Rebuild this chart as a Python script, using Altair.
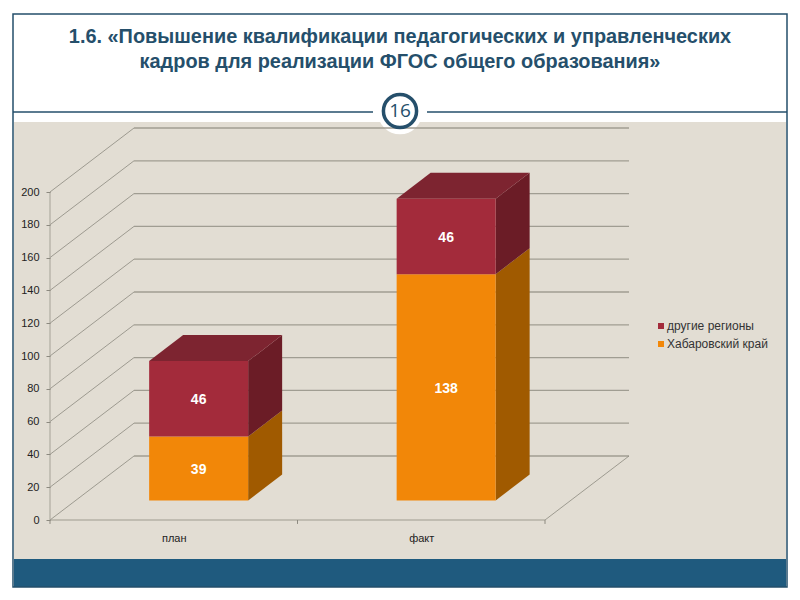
import altair as alt
import pandas as pd

# ---- data
categories = ["план", "факт"]
series = ["другие регионы", "Хабаровский край"]
region_values = [39, 138]
other_values = [46, 46]
y_ticks = [0, 20, 40, 60, 80, 100, 120, 140, 160, 180, 200]
title_lines = ["1.6. «Повышение квалификации педагогических и управленческих",
               "кадров для реализации ФГОС общего образования»"]
slide_number = ["16"]

# ---- geometry of the oblique 3D projection (in scale units)
W, H = 784, 584
PX_CAT = 247.5      # px per category
PX_VAL = 1.64       # px per value unit
X0, Y0 = 42.0, 512.0  # position of (0, 0) inside the view
DEPTH_X = 84 / PX_CAT
DEPTH_Y = 64 / PX_VAL
BAR_W = 0.4
FRONT_DX, FRONT_DY = 24.9 / PX_CAT, 19.5 / PX_VAL
BACK_DX, BACK_DY = 58.9 / PX_CAT, 45.5 / PX_VAL

xs = alt.Scale(domain=[-X0 / PX_CAT, (W - X0) / PX_CAT], nice=False, zero=False)
ys = alt.Scale(domain=[(Y0 - H) / PX_VAL, Y0 / PX_VAL], nice=False, zero=False)


def X(f="x", **k):
    return alt.X(f"{f}:Q", scale=xs, title=None, **k)


def Y(f="y", **k):
    return alt.Y(f"{f}:Q", scale=ys, title=None, **k)


X2 = alt.X2("x2:Q")
Y2 = alt.Y2("y2:Q")

BEIGE = "#E2DDD3"
BLUE = "#1F5A7E"
DARK = "#254F6B"
GRID = "#A09D92"
FONT = "Liberation Sans"
one = alt.Data(values=[{"a": 1}])


def px_rect(x, x2, y, y2, **kw):
    return alt.Chart(one).mark_rect(**kw).encode(
        x=alt.value(x), x2=alt.value(x2), y=alt.value(y), y2=alt.value(y2))


layers = [
    px_rect(6, 778, 114, 551, fill=BEIGE),
    px_rect(6, 778, 551, 579, fill=BLUE),
]

# white halo of the page-number badge sits under the grid
layers.append(alt.Chart(one).mark_point(filled=True, color="white", opacity=1, size=2000).encode(
    x=alt.value(392), y=alt.value(104)))

# ---- front floor edge carries the real axes: it must be the first layer with x/y
floor = pd.DataFrame({"x": [0.0], "x2": [2.0], "y": [0.0]})
layers.append(alt.Chart(floor).mark_rule(color="#B5B1A6", strokeWidth=1.5).encode(
    x=X(axis=alt.Axis(values=[0.5, 1.5], labelExpr="datum.value == 0.5 ? 'план' : 'факт'",
                      domain=False, grid=False, ticks=False, offset=-(H - Y0),
                      labelPadding=12, labelFont=FONT, labelFontSize=11,
                      labelColor="#222222", zindex=1)),
    x2=X2,
    y=Y(axis=alt.Axis(values=y_ticks, domain=False, grid=False, offset=-X0,
                      tickColor="#8C897F", tickSize=4, labelPadding=7,
                      labelFont=FONT, labelFontSize=11, labelColor="#222222", zindex=1))))

# ---- walls
back = pd.DataFrame({"x": DEPTH_X, "x2": 2 + DEPTH_X,
                     "y": [v + DEPTH_Y for v in y_ticks]})
layers.append(alt.Chart(back).mark_rule(color=GRID, strokeWidth=1.3).encode(
    x=X(), x2=X2, y=Y()))

wall = pd.DataFrame({"x": 0.0, "x2": DEPTH_X, "y": y_ticks,
                     "yb": [v + DEPTH_Y for v in y_ticks]})
layers.append(alt.Chart(wall).mark_rule(color="#8C897F", strokeWidth=0.8).encode(
    x=X(), x2=X2, y=Y(), y2=alt.Y2("yb:Q")))

edge = pd.DataFrame({"x": [2.0], "x2": [2 + DEPTH_X], "y": [0.0], "yb": [DEPTH_Y]})
layers.append(alt.Chart(edge).mark_rule(color="#8C897F", strokeWidth=0.8).encode(
    x=X(), x2=X2, y=Y(), y2=alt.Y2("yb:Q")))

left = pd.DataFrame({"x": [0.0], "y": [0.0], "y2": [200.0]})
layers.append(alt.Chart(left).mark_rule(color="#A5A297", strokeWidth=1).encode(
    x=X(), y=Y(), y2=Y2))

xticks = pd.DataFrame({"x": [0.0, 1.0, 2.0], "y": [0.0] * 3, "y2": [-2.4] * 3})
layers.append(alt.Chart(xticks).mark_rule(color="#8C897F", strokeWidth=1).encode(
    x=X(), y=Y(), y2=Y2))

# ---- 3D stacked bars
stacks = []
for i, c in enumerate(categories):
    stacks.append(dict(cat=c, i=i, s=series[1], lo=0, hi=region_values[i],
                       side="#A05A00", top="#F7A030"))
    stacks.append(dict(cat=c, i=i, s=series[0], lo=region_values[i],
                       hi=region_values[i] + other_values[i],
                       side="#6B1C26", top="#7D2430"))

legend_rows = []
for st in stacks:
    left_x = st["i"] + 0.5 - BAR_W / 2 + FRONT_DX
    right_x = left_x + BAR_W
    # side face: parallelogram with vertical edges
    side = pd.DataFrame({
        "x": [right_x, right_x + BACK_DX - FRONT_DX],
        "y": [st["lo"] + FRONT_DY, st["lo"] + BACK_DY],
        "y2": [st["hi"] + FRONT_DY, st["hi"] + BACK_DY]})
    layers.append(alt.Chart(side).mark_area(color=st["side"]).encode(
        x=X(), y=Y(), y2=Y2))
    if st["s"] == series[0]:
        top = pd.DataFrame({
            "y": [st["hi"] + FRONT_DY, st["hi"] + BACK_DY],
            "x": [left_x, left_x + BACK_DX - FRONT_DX],
            "x2": [right_x, right_x + BACK_DX - FRONT_DX]})
        layers.append(alt.Chart(top).mark_area(color=st["top"], orient="horizontal").encode(
            y=Y(), x=X(), x2=X2))
    legend_rows.append(dict(series=st["s"], x=left_x, x2=right_x,
                            y=st["lo"] + FRONT_DY, y2=st["hi"] + FRONT_DY,
                            xc=(left_x + right_x) / 2,
                            yc=(st["lo"] + st["hi"]) / 2 + FRONT_DY,
                            label=str(st["hi"] - st["lo"])))

front = pd.DataFrame(legend_rows)
layers.append(alt.Chart(front).mark_rect().encode(
    x=X(), x2=X2, y=Y(), y2=Y2,
    color=alt.Color("series:N",
                    scale=alt.Scale(domain=series, range=["#A32B3B", "#F28708"]),
                    sort=series,
                    legend=alt.Legend(orient="none", legendX=647, legendY=312, title=None,
                                      symbolType="square", symbolSize=36,
                                      symbolStrokeWidth=0, labelFont=FONT, labelFontSize=12,
                                      labelColor="#333333", rowPadding=6, labelOffset=0))))
layers.append(alt.Chart(front).mark_text(color="white", font=FONT, fontWeight="bold",
                                         fontSize=14, dy=1.5).encode(
    x=X("xc"), y=Y("yc"), text="label:N"))

# ---- slide furniture
layers.append(alt.Chart(one).mark_rule(color=DARK, strokeWidth=1.3).encode(
    x=alt.value(5), x2=alt.value(365), y=alt.value(104)))
layers.append(alt.Chart(one).mark_rule(color=DARK, strokeWidth=1.3).encode(
    x=alt.value(419), x2=alt.value(779), y=alt.value(104)))
layers.append(alt.Chart(one).mark_point(filled=False, color=DARK, opacity=1, size=1100,
                                        strokeWidth=3.5).encode(
    x=alt.value(392), y=alt.value(103)))
layers.append(alt.Chart(pd.DataFrame({"t": slide_number})).mark_text(
    font="Open Sans", fontSize=19, color=DARK).encode(
    x=alt.value(392), y=alt.value(103), text="t:N"))
layers.append(alt.Chart(one).mark_rect(fill="transparent", stroke=DARK, strokeWidth=1.5).encode(
    x=alt.value(5), x2=alt.value(779), y=alt.value(6), y2=alt.value(579)))
for ln, ypx in zip(title_lines, [29, 54]):
    layers.append(alt.Chart(pd.DataFrame({"t": [ln]})).mark_text(
        font=FONT, fontWeight="bold", fontSize=19.9, color=DARK).encode(
        x=alt.value(392), y=alt.value(ypx), text="t:N"))

chart = alt.layer(*layers).properties(
    width=W, height=H, padding=0, background="white"
).configure_view(stroke=None)

chart.save("out.html", embed_options={"renderer": "svg", "actions": False})
